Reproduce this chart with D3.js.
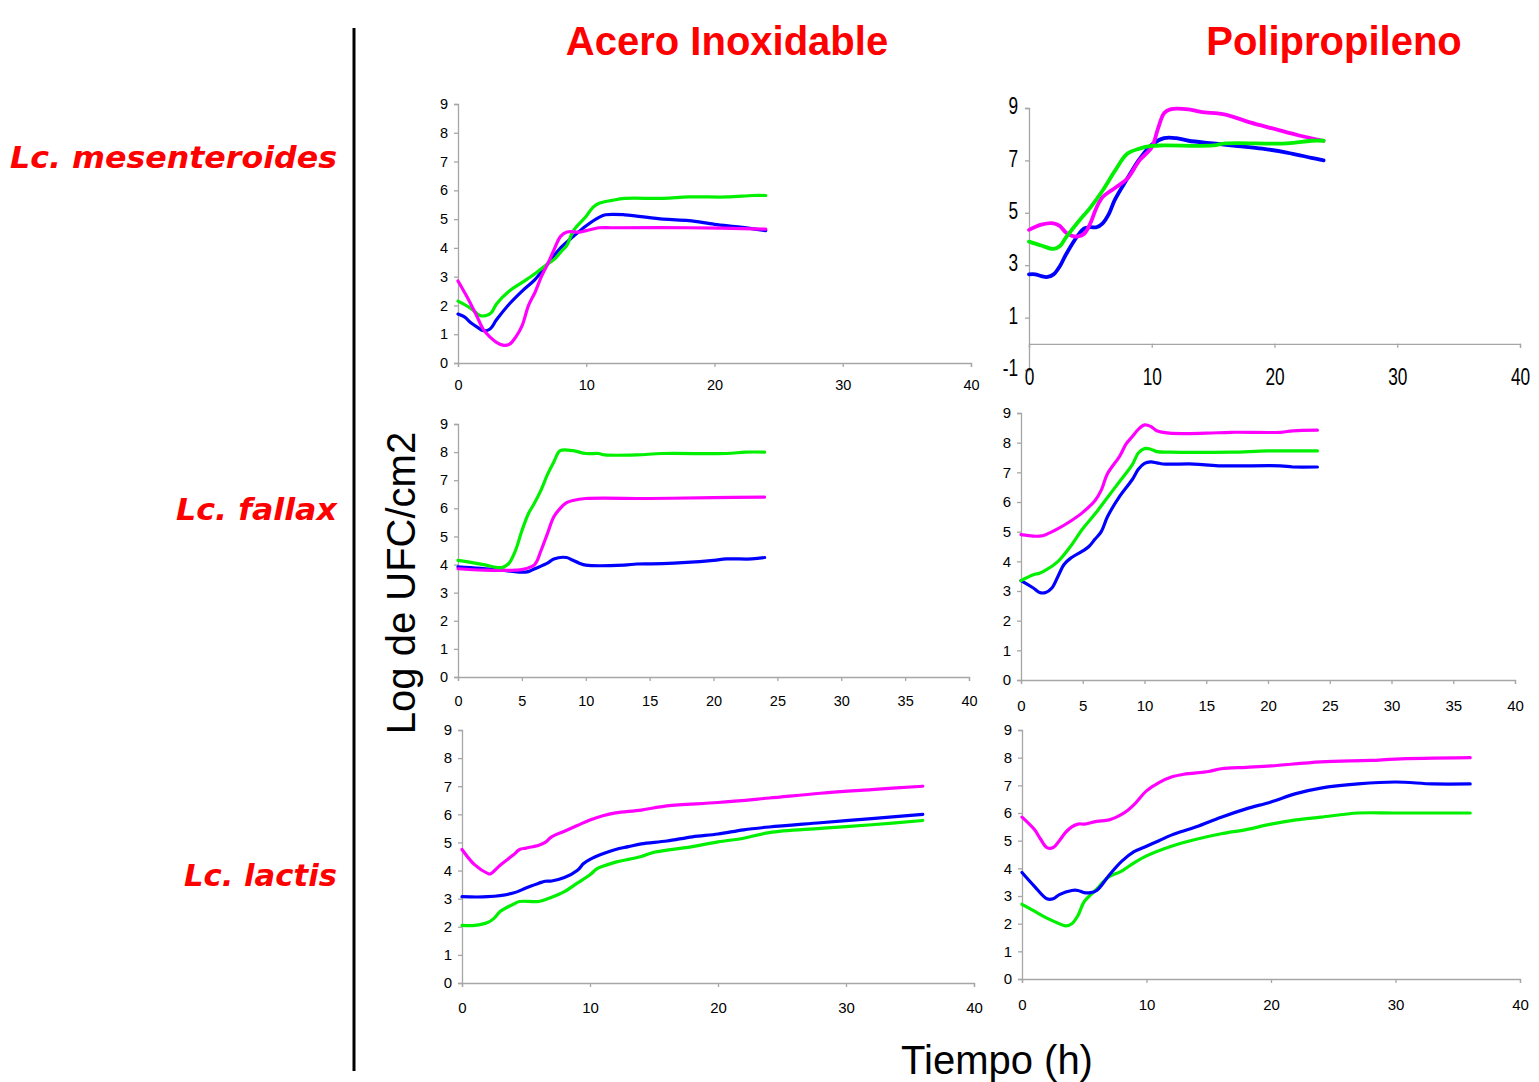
<!DOCTYPE html>
<html><head><meta charset="utf-8">
<script src="https://cdn.jsdelivr.net/npm/d3@7"></script>
<style>body{margin:0;background:#fff;} svg{display:block;}</style>
</head><body>
<svg id="c" width="1539" height="1082"></svg>
<script>
// ---------------- DATA ----------------
const columnTitles = ["Acero Inoxidable", "Polipropileno"];
const rowTitles = ["Lc. mesenteroides", "Lc. fallax", "Lc. lactis"];
const yAxisTitle = "Log de UFC/cm2";
const xAxisTitle = "Tiempo (h)";

// Lc. mesenteroides – Acero Inoxidable
const mesAcero_blue_t = [0,0.5,1,1.5,2,2.5,3,4,5,6,7,8,9,10,11,11.5,13,16,18,20,22,24];
const mesAcero_blue_v = [1.7,1.6,1.4,1.25,1.12,1.18,1.5,2.05,2.5,2.9,3.45,4.0,4.4,4.77,5.06,5.15,5.15,5.0,4.95,4.82,4.72,4.6];
const mesAcero_green_t = [0,1,1.7,2.2,2.6,3,4,5,6,7,7.5,8,8.5,9,10,10.5,11,12,13,16,18,21,23,24];
const mesAcero_green_v = [2.15,1.9,1.65,1.65,1.75,2.05,2.5,2.8,3.1,3.45,3.6,3.85,4.1,4.6,5.1,5.4,5.55,5.65,5.72,5.72,5.77,5.77,5.82,5.82];
const mesAcero_mag_t = [0,0.7,1.5,2,2.5,3,3.5,4,4.5,5,5.5,6,6.5,7,7.5,8,8.5,9.5,10,11,12,18,24];
const mesAcero_mag_v = [2.85,2.3,1.6,1.15,0.9,0.72,0.62,0.65,0.9,1.3,2.0,2.45,3.0,3.45,3.95,4.4,4.55,4.55,4.6,4.7,4.7,4.7,4.65];

// Lc. mesenteroides – Polipropileno
const mesPoli_blue_t = [0,0.5,1,1.5,2,2.5,3,4,4.5,5,5.5,6,6.5,7,8,9,10,11,12,13,15,17,19,21,23,24];
const mesPoli_blue_v = [2.65,2.65,2.58,2.55,2.65,2.95,3.4,4.15,4.4,4.45,4.45,4.6,4.95,5.5,6.3,7.05,7.6,7.85,7.85,7.75,7.65,7.55,7.45,7.3,7.1,7.0];
const mesPoli_green_t = [0,1,2,2.5,3,4,5,6,7,8,9,10,11,15,16,21,23,24];
const mesPoli_green_v = [3.9,3.75,3.62,3.72,4.05,4.65,5.2,5.85,6.6,7.25,7.45,7.55,7.57,7.57,7.65,7.65,7.75,7.75];
const mesPoli_mag_t = [0,1,2,2.5,3,3.5,4,4.5,5,5.5,6,7,8,9,10,10.5,11,11.5,13,14,16,18,20,22,24];
const mesPoli_mag_v = [4.35,4.55,4.6,4.5,4.25,4.12,4.1,4.2,4.6,5.2,5.6,5.95,6.3,7.0,7.5,8.2,8.8,8.95,8.95,8.85,8.75,8.45,8.2,7.95,7.75];

// Lc. fallax – Acero Inoxidable
const falAcero_blue_t = [0,3,5,5.5,6,7,7.5,8.5,9,9.5,10,13,14,16,20,21,23,24];
const falAcero_blue_v = [3.92,3.82,3.73,3.75,3.85,4.05,4.2,4.25,4.15,4.05,3.98,3.98,4.02,4.03,4.15,4.2,4.2,4.25];
const falAcero_green_t = [0,2,3,3.5,4,4.5,5,5.5,6,6.5,7,7.5,8,9,10,11,11.5,14,16,21,22.5,24];
const falAcero_green_v = [4.15,4.0,3.9,3.9,4.05,4.5,5.2,5.8,6.2,6.65,7.2,7.65,8.05,8.05,7.95,7.95,7.9,7.9,7.95,7.95,8.0,8.0];
const falAcero_mag_t = [0,2,4.5,5,6,6.5,7,7.5,8,8.5,9,10,15,20,24];
const falAcero_mag_v = [3.85,3.8,3.8,3.82,4.0,4.5,5.1,5.7,6.0,6.2,6.28,6.35,6.35,6.38,6.4];

// Lc. fallax – Polipropileno
const falPoli_blue_t = [0,1,1.5,2,2.5,3,3.5,4,5,5.5,6,6.5,7,8,9,9.5,10,10.5,11,11.5,14,16,21,22,24];
const falPoli_blue_v = [3.35,3.1,2.95,2.95,3.1,3.5,3.9,4.1,4.35,4.5,4.75,5.0,5.5,6.2,6.75,7.1,7.3,7.35,7.32,7.28,7.28,7.22,7.22,7.18,7.18];
const falPoli_green_t = [0,1,1.5,2,3,4,5,6,7,8,9,9.5,10,10.5,11,12,17,20,24];
const falPoli_green_v = [3.35,3.55,3.6,3.7,4.0,4.5,5.1,5.6,6.15,6.7,7.25,7.65,7.8,7.78,7.7,7.68,7.68,7.72,7.72];
const falPoli_mag_t = [0,1,1.5,2,3,4,5,6,6.5,7,8,8.5,9,9.5,10,10.5,11,12,15,17,21,22,24];
const falPoli_mag_v = [4.9,4.85,4.85,4.9,5.1,5.35,5.65,6.05,6.4,6.95,7.55,7.95,8.2,8.45,8.6,8.55,8.4,8.32,8.32,8.35,8.35,8.4,8.42];

// Lc. lactis – Acero Inoxidable
const lacAcero_blue_t = [0,2,4,5,6,6.5,7,8,9,9.5,10,11,12,13,14,16,18,20,22,24,28,32,36];
const lacAcero_blue_v = [3.07,3.07,3.2,3.38,3.55,3.62,3.63,3.75,4.0,4.25,4.4,4.6,4.75,4.85,4.95,5.05,5.2,5.3,5.45,5.55,5.7,5.85,6.0];
const lacAcero_green_t = [0,1,2,2.5,3,4,4.5,6,7,8,9,10,10.5,11,12,14,15,18,20,22,24,28,32,36];
const lacAcero_green_v = [2.05,2.05,2.15,2.3,2.55,2.8,2.9,2.9,3.05,3.25,3.55,3.85,4.05,4.15,4.3,4.5,4.65,4.85,5.02,5.15,5.35,5.5,5.63,5.78];
const lacAcero_mag_t = [0,1,2,2.2,3,4,4.5,5,6,6.5,7,8,9,10,11,12,14,16,20,24,28,32,36];
const lacAcero_mag_v = [4.75,4.2,3.9,3.88,4.2,4.55,4.75,4.8,4.9,5.0,5.2,5.4,5.6,5.8,5.95,6.05,6.15,6.3,6.42,6.58,6.75,6.88,7.0];

// Lc. lactis – Polipropileno
const lacPoli_blue_t = [0,1,2,2.5,3,4,4.5,5,5.5,6,7,8,9,10,11,12,14,16,18,20,22,24,27,30,33,36];
const lacPoli_blue_v = [3.85,3.35,2.9,2.9,3.05,3.2,3.2,3.12,3.12,3.2,3.75,4.25,4.6,4.8,5.0,5.2,5.5,5.85,6.15,6.4,6.7,6.9,7.05,7.12,7.05,7.05];
const lacPoli_green_t = [0,1,2,3,3.5,4,4.5,5,6,6.5,7,8,9,10,12,14,16,18,20,22,24,27,30,36];
const lacPoli_green_v = [2.7,2.45,2.2,2.0,1.92,2.0,2.3,2.8,3.25,3.5,3.7,3.9,4.2,4.45,4.8,5.05,5.25,5.4,5.6,5.75,5.85,6.0,6.0,6.0];
const lacPoli_mag_t = [0,1,1.5,2,2.5,3,3.5,4,4.5,5,6,7,8,8.5,9,10,11,12,13,15,16,18,20,24,28,30,36];
const lacPoli_mag_v = [5.85,5.4,5.05,4.75,4.75,5.0,5.3,5.5,5.6,5.6,5.7,5.75,5.95,6.1,6.3,6.8,7.1,7.3,7.4,7.5,7.6,7.65,7.7,7.85,7.9,7.95,8.0];

// tick labels
const xTicks10 = [0,10,20,30,40];
const xTicks5 = [0,5,10,15,20,25,30,35,40];
const yTicks0to9 = [0,1,2,3,4,5,6,7,8,9];
const yTicksOdd = [-1,1,3,5,7,9];

// ---------------- LAYOUT / STYLE ----------------
const COL = {blue:"#0000ff", green:"#00f000", mag:"#ff00ff"};
const AXIS = "#a6a6a6";
const FONT = "'Liberation Sans',Arial,sans-serif";

const svg = d3.select("#c");

function zip(t, v){ return t.map((d,i)=>({t:d, v:v[i]})); }

const panels = [
  {x0:458, x1:971, yb:363, yt:104, ydom:[0,9], yt_:yTicks0to9, xt:xTicks10, fs:14.5, sw:3.2, pad:13, series:[
     [mesAcero_blue_t,mesAcero_blue_v,"blue"],[mesAcero_green_t,mesAcero_green_v,"green"],[mesAcero_mag_t,mesAcero_mag_v,"mag"]]},
  {x0:1029, x1:1520, yb:370, yt:108, ydom:[-1,9], yt_:yTicksOdd, xt:xTicks10, fs:24, narrow:true, xAt:0, sw:3.8, pad:20, series:[
     [mesPoli_blue_t,mesPoli_blue_v,"blue"],[mesPoli_mag_t,mesPoli_mag_v,"mag"],[mesPoli_green_t,mesPoli_green_v,"green"]]},
  {x0:458, x1:969, yb:677, yt:424, ydom:[0,9], yt_:yTicks0to9, xt:xTicks5, fs:14.5, sw:3.2, pad:15, series:[
     [falAcero_blue_t,falAcero_blue_v,"blue"],[falAcero_mag_t,falAcero_mag_v,"mag"],[falAcero_green_t,falAcero_green_v,"green"]]},
  {x0:1021, x1:1515, yb:680, yt:413, ydom:[0,9], yt_:yTicks0to9, xt:xTicks5, fs:15, sw:3.2, pad:16, series:[
     [falPoli_blue_t,falPoli_blue_v,"blue"],[falPoli_green_t,falPoli_green_v,"green"],[falPoli_mag_t,falPoli_mag_v,"mag"]]},
  {x0:462, x1:974, yb:983, yt:730, ydom:[0,9], yt_:yTicks0to9, xt:xTicks10, fs:15, sw:3.2, pad:15, series:[
     [lacAcero_green_t,lacAcero_green_v,"green"],[lacAcero_blue_t,lacAcero_blue_v,"blue"],[lacAcero_mag_t,lacAcero_mag_v,"mag"]]},
  {x0:1022, x1:1520, yb:979, yt:730, ydom:[0,9], yt_:yTicks0to9, xt:xTicks10, fs:15, sw:3.2, pad:16, series:[
     [lacPoli_green_t,lacPoli_green_v,"green"],[lacPoli_blue_t,lacPoli_blue_v,"blue"],[lacPoli_mag_t,lacPoli_mag_v,"mag"]]}
];

panels.forEach(p => {
  const x = d3.scaleLinear().domain([0,40]).range([p.x0, p.x1]);
  const y = d3.scaleLinear().domain(p.ydom).range([p.yb, p.yt]);
  const g = svg.append("g");
  const xAxisY = p.xAt !== undefined ? y(p.xAt) : p.yb;

  // y axis
  const ya = g.append("g").attr("transform", `translate(${p.x0},0)`)
    .call(d3.axisLeft(y).tickValues(p.yt_).tickSize(4).tickPadding(6).tickFormat(d3.format("d")));
  ya.select(".domain").attr("stroke", AXIS).attr("stroke-width", 1.3);
  ya.selectAll(".tick line").attr("stroke", AXIS).attr("stroke-width", 1.3);
  ya.selectAll(".tick text").attr("fill","#000").style("font-family", FONT).style("font-size", p.fs+"px");

  // x axis
  const xa = g.append("g").attr("transform", `translate(0,${xAxisY})`)
    .call(d3.axisBottom(x).tickValues(p.xt).tickSize(4).tickPadding(p.pad).tickFormat(d3.format("d")));
  xa.select(".domain").attr("stroke", AXIS).attr("stroke-width", 1.3);
  xa.selectAll(".tick line").attr("stroke", AXIS).attr("stroke-width", 1.3);
  xa.selectAll(".tick text").attr("fill","#000").style("font-family", FONT).style("font-size", p.fs+"px");

  if (p.narrow) {
    // condensed tick labels (narrow face look)
    ya.selectAll(".tick text").each(function(){
      const t = d3.select(this); const xx = +t.attr("x");
      t.attr("x", 0).attr("transform", `translate(${xx-1},-2) scale(0.72,1)`).text(d => d < 0 ? "-" + Math.abs(d) : d);
    });
    xa.selectAll(".tick text").attr("transform","scale(0.72,1)");
  }

  const line = d3.line().x(d=>x(d.t)).y(d=>y(d.v)).curve(d3.curveCatmullRom.alpha(0.5));
  p.series.forEach(s => {
    g.append("path").datum(zip(s[0], s[1]))
      .attr("d", line).attr("fill","none").attr("stroke", COL[s[2]])
      .attr("stroke-width", p.sw).attr("stroke-linejoin","round").attr("stroke-linecap","round");
  });
});

// Column titles
const titleX = [727, 1334];
columnTitles.forEach((t,i) => {
  svg.append("text").attr("x", titleX[i]).attr("y", 55).attr("text-anchor","middle")
    .style("font-family", FONT).style("font-weight","bold")
    .style("font-size","40px").attr("fill","#ff0000").text(t);
});

// Row titles
const rowY = [168, 520, 886];
const rowLen = [327, 161, 153];
rowTitles.forEach((t,i) => {
  svg.append("text").attr("x", 337).attr("y", rowY[i]).attr("text-anchor","end")
    .style("font-family","'DejaVu Sans',Verdana,sans-serif").style("font-weight","bold").style("font-style","italic")
    .style("font-size","30px").attr("fill","#ff0000")
    .attr("textLength", rowLen[i]).attr("lengthAdjust","spacingAndGlyphs").text(t);
});

// Separator line
svg.append("line").attr("x1",354).attr("x2",354).attr("y1",28).attr("y2",1071)
  .attr("stroke","#000").attr("stroke-width",3);

// Axis titles
svg.append("text").attr("transform","translate(415,583) rotate(-90)").attr("text-anchor","middle")
  .style("font-family", FONT).style("font-size","40px").attr("fill","#000").text(yAxisTitle);
svg.append("text").attr("x", 997).attr("y", 1074).attr("text-anchor","middle")
  .style("font-family", FONT).style("font-size","40px").attr("fill","#000").text(xAxisTitle);
</script>
</body></html>
